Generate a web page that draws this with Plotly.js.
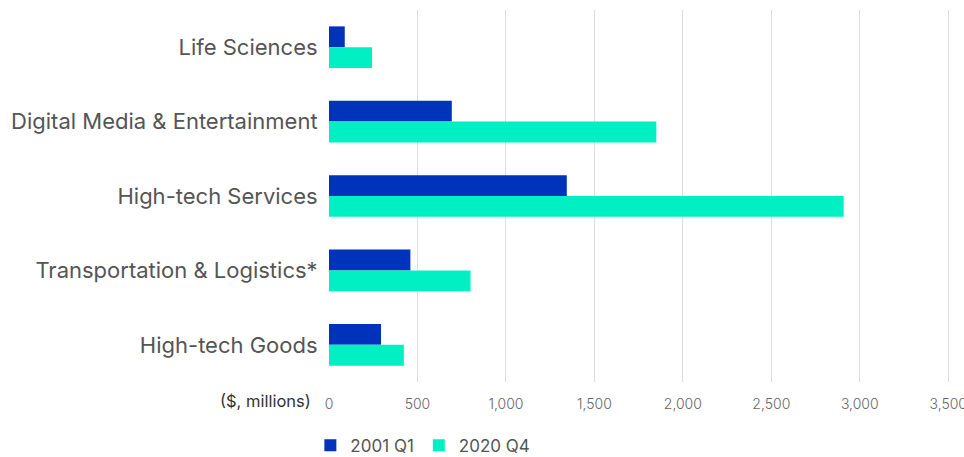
<!DOCTYPE html>
<html>
<head>
<meta charset="utf-8">
<script src="https://cdn.plot.ly/plotly-3.0.1.min.js"></script>
<style>html,body{margin:0;padding:0;background:#fff;}#chart{width:964px;height:457px;}</style>
</head>
<body>
<div id="chart"></div>
<script>
const categories = ["Life Sciences", "Digital Media & Entertainment", "High-tech Services", "Transportation & Logistics*", "High-tech Goods"];
const series2001Q1 = [89, 694, 1344, 460, 294];
const series2020Q4 = [243, 1850, 2909, 800, 423];
const seriesNames = ["2001 Q1", "2020 Q4"];
const tickValues = [0, 500, 1000, 1500, 2000, 2500, 3000, 3500];
const tickLabels = ["0", "500", "1,000", "1,500", "2,000", "2,500", "3,000", "3,500"];

const FONT = "Inter, 'Noto Sans', sans-serif";
const traces = [
  {type: "bar", orientation: "h", name: seriesNames[0], y: categories, x: series2001Q1,
   marker: {color: "#0033BB"}, hoverinfo: "x+name"},
  {type: "bar", orientation: "h", name: seriesNames[1], y: categories, x: series2020Q4,
   marker: {color: "#00F0C3"}, hoverinfo: "x+name"}
];
const layout = {
  width: 964, height: 457,
  margin: {l: 329, r: 14, t: 10, b: 75, autoexpand: false},
  paper_bgcolor: "#fff", plot_bgcolor: "#fff",
  barmode: "group", bargap: 0.44, bargroupgap: 0,
  font: {family: FONT, color: "#555"},
  xaxis: {range: [0, 3510], tickvals: tickValues, ticktext: tickLabels,
          showgrid: true, gridcolor: "#DDDDDD", gridwidth: 1, zeroline: false,
          ticks: "outside", ticklen: 9, tickcolor: "rgba(0,0,0,0)", ticklabeloverflow: "allow",
          tickfont: {family: FONT, size: 14, color: "#666", weight: 300}, fixedrange: true},
  yaxis: {autorange: "reversed", showgrid: false, zeroline: false, showline: false,
          ticks: "outside", ticklen: 6, tickcolor: "rgba(0,0,0,0)",
          tickfont: {family: FONT, size: 22, color: "#555"}, fixedrange: true},
  showlegend: true,
  legend: {orientation: "h", x: -0.030, xanchor: "left", yref: "container", y: 0.025, yanchor: "middle",
           font: {family: FONT, size: 17, color: "#555"}, itemwidth: 30, traceorder: "normal"},
  annotations: [{text: "($, millions)", xref: "paper", yref: "paper", x: -0.026, y: -0.05,
                 xanchor: "right", yanchor: "middle", showarrow: false,
                 font: {family: FONT, size: 16.5, color: "#333"}}]
};
Plotly.newPlot("chart", traces, layout, {displayModeBar: false, staticPlot: true});
</script>
</body>
</html>
